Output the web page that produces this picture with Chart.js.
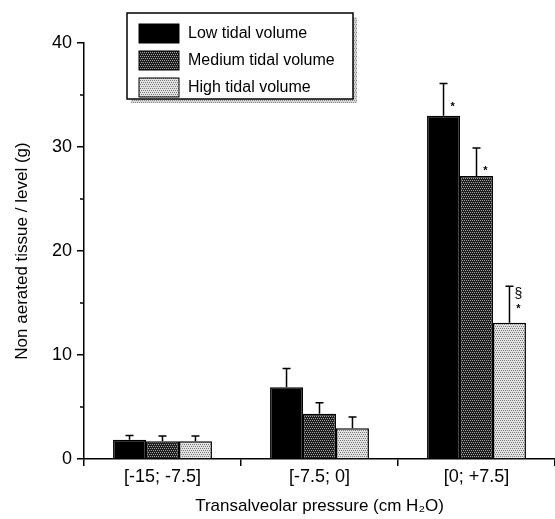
<!DOCTYPE html>
<html>
<head>
<meta charset="utf-8">
<script src="https://cdn.jsdelivr.net/npm/chart.js@4.4.1/dist/chart.umd.min.js"></script>
<style>
  html, body { margin: 0; padding: 0; background: #fff; }
  #wrap { width: 555px; height: 519px; }
</style>
</head>
<body>
<div id="wrap"><canvas id="c" width="555" height="519"></canvas></div>
<script>
// Pressure bands on the x axis
const categories = ['[-15; -7.5]', '[-7.5; 0]', '[0; +7.5]'];
const seriesNames = ['Low tidal volume', 'Medium tidal volume', 'High tidal volume'];

// Mean non aerated tissue per level (g)
const lowValues = [1.85, 6.9, 33.0];
const mediumValues = [1.7, 4.35, 27.2];
const highValues = [1.7, 2.95, 13.1];

// Standard deviations (drawn upward only)
const lowSD = [0.4, 1.8, 3.1];
const mediumSD = [0.5, 1.05, 2.7];
const highSD = [0.5, 1.1, 3.5];

// Significance marks above each bar (top to bottom)
const lowMarks = [[], [], ['*']];
const mediumMarks = [[], [], ['*']];
const highMarks = [[], [], ['§', '*']];

const yTicks = [0, 10, 20, 30, 40];
const yMinorTicks = [5, 15, 25, 35];

const FONT = '"Liberation Sans", Arial, Helvetica, sans-serif';

// Fine dot-screen fills for the shaded bars
function stipple(base, dot) {
  const c = document.createElement('canvas');
  c.width = 4; c.height = 4;
  const g = c.getContext('2d');
  g.fillStyle = base; g.fillRect(0, 0, 4, 4);
  g.fillStyle = dot;
  [[0, 0], [2, 0], [1, 2], [3, 2]].forEach(([x, y]) => g.fillRect(x, y, 1, 1));
  return g.createPattern(c, 'repeat');
}
const fills = ['#000000', stipple('#1e1e1e', '#a0a0a0'), stipple('#e2e2e2', '#7a7a7a')];

const errorBars = {
  id: 'errorBars',
  afterDatasetsDraw(chart) {
    const ctx = chart.ctx;
    const y = chart.scales.y;
    ctx.save();
    ctx.strokeStyle = '#000';
    ctx.lineWidth = 1.5;
    chart.data.datasets.forEach((ds, i) => {
      const meta = chart.getDatasetMeta(i);
      meta.data.forEach((bar, j) => {
        const base = y.getPixelForValue(ds.data[j]);
        const top = y.getPixelForValue(ds.data[j] + ds.sd[j]);
        ctx.beginPath();
        ctx.moveTo(bar.x, base);
        ctx.lineTo(bar.x, top);
        ctx.moveTo(bar.x - 4, top);
        ctx.lineTo(bar.x + 4, top);
        ctx.stroke();
        const marks = ds.marks[j];
        ctx.fillStyle = '#000';
        ctx.textAlign = 'center';
        ctx.textBaseline = 'middle';
        marks.forEach((m, k) => {
          const n = marks.length;
          const my = top + 21 - (n - 1 - k) * 13;
          ctx.font = (m === '*' ? 'bold 11px ' : '14px ') + FONT;
          ctx.fillText(m, bar.x + 9, my + (m === '*' ? 2 : 0));
        });
      });
    });
    ctx.restore();
  }
};

const minorTicks = {
  id: 'minorTicks',
  afterDraw(chart) {
    const ctx = chart.ctx;
    const y = chart.scales.y;
    ctx.save();
    ctx.strokeStyle = '#000';
    ctx.lineWidth = 1.5;
    yMinorTicks.forEach(v => {
      const py = y.getPixelForValue(v);
      ctx.beginPath();
      ctx.moveTo(y.right - 4, py);
      ctx.lineTo(y.right, py);
      ctx.stroke();
    });
    ctx.restore();
  }
};

const boxLegend = {
  id: 'boxLegend',
  afterDraw(chart) {
    const ctx = chart.ctx;
    const area = chart.chartArea;
    const bx = area.left + 43, by = 13, bw = 226, bh = 86;
    ctx.save();
    // drop shadow
    ctx.fillStyle = stipple('#d6d6d6', '#8a8a8a');
    ctx.fillRect(bx + bw, by + 4, 4, bh);
    ctx.fillRect(bx + 4, by + bh, bw, 4);
    ctx.fillStyle = '#fff';
    ctx.fillRect(bx, by, bw, bh);
    ctx.strokeStyle = '#000';
    ctx.lineWidth = 1.5;
    ctx.strokeRect(bx, by, bw, bh);
    chart.data.datasets.forEach((ds, i) => {
      const sy = by + 11 + i * 27;
      ctx.fillStyle = ds.backgroundColor;
      ctx.fillRect(bx + 12, sy, 40, 19);
      ctx.lineWidth = 1;
      ctx.strokeRect(bx + 12, sy, 40, 19);
      ctx.fillStyle = '#000';
      ctx.font = '16px ' + FONT;
      ctx.textAlign = 'left';
      ctx.textBaseline = 'middle';
      ctx.fillText(ds.label, bx + 61, sy + 10);
    });
    ctx.restore();
  }
};

const values = [lowValues, mediumValues, highValues];
const sds = [lowSD, mediumSD, highSD];
const marks = [lowMarks, mediumMarks, highMarks];

new Chart(document.getElementById('c'), {
  type: 'bar',
  data: {
    labels: categories,
    datasets: seriesNames.map((name, i) => ({
      label: name,
      data: values[i],
      sd: sds[i],
      marks: marks[i],
      backgroundColor: fills[i],
      borderColor: '#000',
      borderWidth: 1.5,
      borderSkipped: 'bottom',
      categoryPercentage: 0.63,
      barPercentage: 1
    }))
  },
  options: {
    responsive: false,
    animation: false,
    devicePixelRatio: 1,
    layout: { padding: { top: 43, right: 0, bottom: 0, left: 0 } },
    plugins: {
      legend: { display: false },
      tooltip: { enabled: false }
    },
    scales: {
      x: {
        offset: true,
        grid: { offset: true, drawOnChartArea: false, drawTicks: true, tickLength: 7, color: '#000', lineWidth: 1.5 },
        border: { display: true, color: '#000', width: 1.5 },
        ticks: { color: '#000', font: { family: FONT, size: 18 }, padding: 0 },
        title: {
          display: true,
          text: 'Transalveolar pressure (cm H₂O)',
          color: '#000',
          font: { family: FONT, size: 17 },
          padding: { top: 0, bottom: 2 }
        },
        afterFit(s) { s.height = 60; }
      },
      y: {
        min: 0,
        max: 40,
        afterBuildTicks(s) { s.ticks = yTicks.map(v => ({ value: v })); },
        grid: { drawOnChartArea: false, drawTicks: true, tickLength: 7, color: '#000', lineWidth: 1.5 },
        border: { display: true, color: '#000', width: 1.5 },
        ticks: { color: '#000', font: { family: FONT, size: 18 }, padding: 5 },
        title: {
          display: true,
          text: 'Non aerated tissue / level (g)',
          color: '#000',
          font: { family: FONT, size: 17 },
          padding: { top: 12, bottom: 0 }
        },
        afterFit(s) { s.width = 84; }
      }
    }
  },
  plugins: [errorBars, minorTicks, boxLegend]
});
</script>
</body>
</html>
